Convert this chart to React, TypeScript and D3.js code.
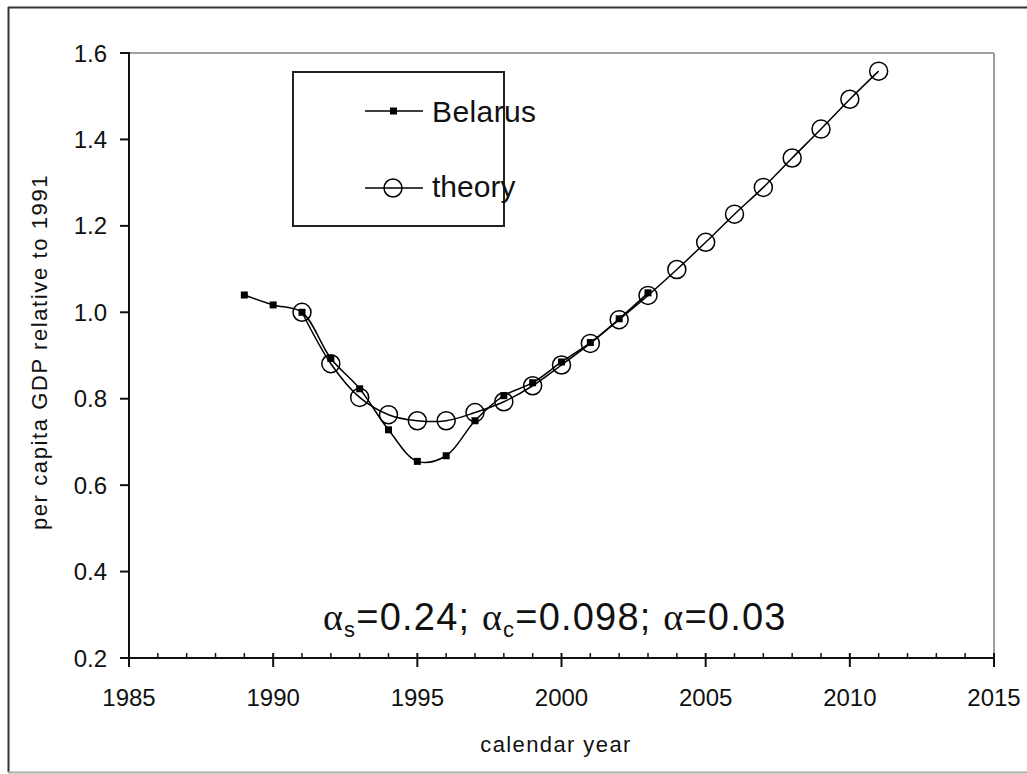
import React from "react";
import * as d3 from "d3";

const belarusYears = [1989, 1990, 1991, 1992, 1993, 1994, 1995, 1996, 1997, 1998, 1999, 2000, 2001, 2002, 2003];
const belarusValues = [1.04, 1.017, 1.0, 0.893, 0.823, 0.728, 0.655, 0.668, 0.749, 0.807, 0.837, 0.885, 0.93, 0.985, 1.045];

const theoryYears = [1991, 1992, 1993, 1994, 1995, 1996, 1997, 1998, 1999, 2000, 2001, 2002, 2003, 2004, 2005, 2006, 2007, 2008, 2009, 2010, 2011];
const theoryValues = [1.0, 0.881, 0.803, 0.763, 0.749, 0.749, 0.768, 0.793, 0.83, 0.878, 0.928, 0.983, 1.039, 1.099, 1.162, 1.227, 1.289, 1.357, 1.424, 1.493, 1.558];

const xMajorTicks = [1985, 1990, 1995, 2000, 2005, 2010, 2015];
const yTicks = [0.2, 0.4, 0.6, 0.8, 1.0, 1.2, 1.4, 1.6];
const seriesNames = ["Belarus", "theory"];

const W = 1027;
const H = 774;
const L = 129, R = 994, T = 53, B = 658;

export default function App() {
  const x = d3.scaleLinear().domain([1985, 2015]).range([L, R]);
  const y = d3.scaleLinear().domain([0.2, 1.6]).range([B, T]);
  const minor = d3.range(1985, 2016, 1).filter((v) => v % 5 !== 0);

  const bel = belarusYears.map((yr, i) => [yr, belarusValues[i]] as [number, number]);
  const th = theoryYears.map((yr, i) => [yr, theoryValues[i]] as [number, number]);
  const line = d3
    .line<[number, number]>()
    .x((d) => x(d[0]))
    .y((d) => y(d[1]))
    .curve(d3.curveCatmullRom.alpha(0.5));

  const font = "'Liberation Sans', Arial, sans-serif";
  const txt = "#111";

  return (
    <svg width={W} height={H} style={{ position: "absolute", left: 0, top: 0, background: "#fff" }}>
      <rect x={0} y={0} width={W} height={H} fill="#fff" />
      {/* outer frame */}
      <line x1={8} y1={7.5} x2={W} y2={7.5} stroke="#333" strokeWidth={2} />
      <line x1={8.5} y1={7} x2={8.5} y2={772} stroke="#333" strokeWidth={2} />
      <line x1={8} y1={772.5} x2={W} y2={772.5} stroke="#aaa" strokeWidth={2} />

      {/* plot area top/right border */}
      <line x1={L} y1={T} x2={R} y2={T} stroke="#a0a0a0" strokeWidth={2} />
      <line x1={R} y1={T} x2={R} y2={B} stroke="#a0a0a0" strokeWidth={2} />

      {/* axes */}
      <line x1={L} y1={T - 1} x2={L} y2={B + 1} stroke="#111" strokeWidth={2} />
      <line x1={L - 1} y1={B} x2={R + 1} y2={B} stroke="#111" strokeWidth={2} />

      {yTicks.map((v) => (
        <g key={"y" + v}>
          <line x1={L - 9} x2={L} y1={y(v)} y2={y(v)} stroke="#111" strokeWidth={2} />
          <text x={107} y={y(v)} dy="0.36em" textAnchor="end" fontFamily={font} fontSize={24} fill={txt}>
            {v.toFixed(1)}
          </text>
        </g>
      ))}
      {minor.map((v) => (
        <line key={"m" + v} x1={x(v)} x2={x(v)} y1={B - 5} y2={B} stroke="#111" strokeWidth={1.5} />
      ))}
      {xMajorTicks.map((v) => (
        <g key={"x" + v}>
          <line x1={x(v)} x2={x(v)} y1={B - 5} y2={B + 9} stroke="#111" strokeWidth={2} />
          <text x={x(v)} y={706} textAnchor="middle" fontFamily={font} fontSize={24} fill={txt}>
            {v}
          </text>
        </g>
      ))}

      {/* axis titles */}
      <text x={556} y={752} textAnchor="middle" fontFamily={font} fontSize={22} letterSpacing={1.4} fill={txt}>
        calendar year
      </text>
      <text
        transform={`translate(47,${352}) rotate(-90)`}
        textAnchor="middle"
        fontFamily={font}
        fontSize={22}
        letterSpacing={1.6}
        fill={txt}
      >
        per capita GDP relative to 1991
      </text>

      {/* series lines */}
      <path d={line(th) || ""} fill="none" stroke="#000" strokeWidth={1.5} />
      <path d={line(bel) || ""} fill="none" stroke="#000" strokeWidth={1.5} />
      {bel.map((d, i) => (
        <rect key={"b" + i} x={x(d[0]) - 3.5} y={y(d[1]) - 3.5} width={7} height={7} fill="#000" />
      ))}
      {th.map((d, i) => (
        <circle key={"t" + i} cx={x(d[0])} cy={y(d[1])} r={9} fill="none" stroke="#000" strokeWidth={1.5} />
      ))}

      {/* legend */}
      <rect x={293} y={72} width={211} height={154} fill="#fff" stroke="#222" strokeWidth={2} />
      <line x1={365} x2={423} y1={111} y2={111} stroke="#000" strokeWidth={1.5} />
      <rect x={390} y={107.5} width={7} height={7} fill="#000" />
      <text x={432} y={122} fontFamily={font} fontSize={30} letterSpacing={0.4} fill={txt}>
        {seriesNames[0]}
      </text>
      <line x1={365} x2={423} y1={188} y2={188} stroke="#000" strokeWidth={1.5} />
      <circle cx={393} cy={188} r={9} fill="none" stroke="#000" strokeWidth={1.5} />
      <text x={432} y={197} fontFamily={font} fontSize={30} fill={txt}>
        {seriesNames[1]}
      </text>

      {/* annotation */}
      <text x={323} y={630} fontFamily={font} fontSize={38} letterSpacing={1.2} fill={txt}>
        <tspan fontFamily="'Liberation Serif', serif">α</tspan>
        <tspan fontSize={22} dy={7}>s</tspan>
        <tspan dy={-7}>=0.24; </tspan>
        <tspan fontFamily="'Liberation Serif', serif">α</tspan>
        <tspan fontSize={22} dy={7}>c</tspan>
        <tspan dy={-7}>=0.098; </tspan>
        <tspan fontFamily="'Liberation Serif', serif">α</tspan>
        <tspan>=0.03</tspan>
      </text>
    </svg>
  );
}
